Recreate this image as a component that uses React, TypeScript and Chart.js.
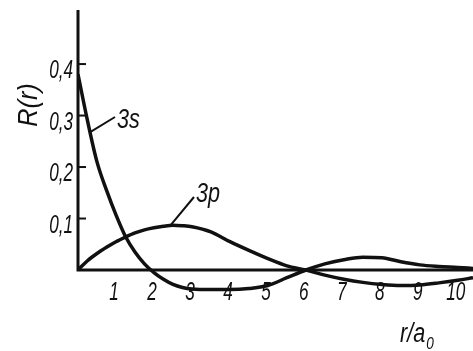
import React, { useEffect, useRef } from "react";
import { Chart, registerables } from "chart.js";

Chart.register(...registerables);

// r / a0 sample positions
const rValues = [0, 0.25, 0.5, 0.75, 1.0, 1.25, 1.5, 1.75, 2.0, 2.25, 2.5, 2.75, 3.0, 3.5, 4.0, 4.5, 5.0, 5.5, 6.0, 6.5, 7.0, 7.5, 8.0, 8.5, 9.0, 9.5, 10.0, 10.4];
// R(r) for 3s
const r3s = [0.38, 0.29, 0.21, 0.155, 0.107, 0.065, 0.035, 0.012, -0.005, -0.018, -0.028, -0.034, -0.037, -0.038, -0.038, -0.036, -0.03, -0.015, 0.0, 0.012, 0.02, 0.025, 0.024, 0.016, 0.01, 0.007, 0.005, 0.003];
// R(r) for 3p
const r3p = [0, 0.018, 0.032, 0.044, 0.055, 0.064, 0.072, 0.078, 0.082, 0.085, 0.087, 0.086, 0.084, 0.074, 0.055, 0.038, 0.022, 0.008, 0.0, -0.01, -0.018, -0.024, -0.028, -0.03, -0.029, -0.025, -0.02, -0.015];

const xTickValues = [1, 2, 3, 4, 5, 6, 7, 8, 9, 10];
const xTickLabels = ["1", "2", "3", "4", "5", "6", "7", "8", "9", "10"];
const yTickValues = [0.1, 0.2, 0.3, 0.4];
const yTickLabels = ["0,1", "0,2", "0,3", "0,4"];

const INK = "#111";

function txt(ctx: CanvasRenderingContext2D, s: string, x: number, y: number, size: number, sx: number, align: CanvasTextAlign): number {
  ctx.save();
  ctx.translate(x, y);
  ctx.scale(sx, 1);
  ctx.font = `italic ${size}px 'Liberation Sans', 'DejaVu Sans', sans-serif`;
  ctx.textAlign = align;
  ctx.textBaseline = "alphabetic";
  ctx.fillStyle = INK;
  ctx.fillText(s, 0, 0);
  const w = ctx.measureText(s).width * sx;
  ctx.restore();
  return w;
}

const axesPlugin = {
  id: "handAxes",
  beforeDatasetsDraw(chart: any) {
    const ctx: CanvasRenderingContext2D = chart.ctx;
    const xs = chart.scales.x;
    const ys = chart.scales.y;
    const x0 = xs.getPixelForValue(0);
    const y0 = ys.getPixelForValue(0);
    ctx.save();
    ctx.strokeStyle = INK;
    ctx.lineWidth = 3;
    ctx.lineCap = "butt";
    ctx.beginPath();
    ctx.moveTo(x0, chart.chartArea.top);
    ctx.lineTo(x0, y0 + 1.5);
    ctx.moveTo(x0 - 1.5, y0);
    ctx.lineTo(chart.chartArea.right, y0);
    ctx.stroke();
    ctx.lineWidth = 2;
    yTickValues.forEach((v) => {
      const py = ys.getPixelForValue(v);
      ctx.beginPath();
      ctx.moveTo(x0, py);
      ctx.lineTo(x0 + 8, py);
      ctx.stroke();
    });
    ctx.restore();
  },
  afterDatasetsDraw(chart: any) {
    const ctx: CanvasRenderingContext2D = chart.ctx;
    const xs = chart.scales.x;
    const ys = chart.scales.y;
    const x0 = xs.getPixelForValue(0);
    const y0 = ys.getPixelForValue(0);
    yTickValues.forEach((v, i) => {
      txt(ctx, yTickLabels[i], x0 - 5, ys.getPixelForValue(v) + 14, 26, 0.66, "right");
    });
    xTickValues.forEach((v, i) => {
      txt(ctx, xTickLabels[i], xs.getPixelForValue(v) - 2, y0 + 30, 26, 0.66, "center");
    });
    // axis titles
    ctx.save();
    ctx.translate(37, 105);
    ctx.rotate(-Math.PI / 2);
    txt(ctx, "R(r)", 0, 0, 28, 0.9, "center");
    ctx.restore();
    const w = txt(ctx, "r/a", 400, 342, 27, 0.8, "left");
    txt(ctx, "0", 400 + w + 1, 349, 17, 0.8, "left");
    // curve labels with leader lines
    ctx.save();
    ctx.strokeStyle = INK;
    ctx.lineWidth = 2;
    ctx.beginPath();
    ctx.moveTo(xs.getPixelForValue(0.32), ys.getPixelForValue(0.268));
    ctx.lineTo(115, 117);
    ctx.moveTo(xs.getPixelForValue(2.45), ys.getPixelForValue(0.088));
    ctx.lineTo(194, 197);
    ctx.stroke();
    ctx.restore();
    txt(ctx, "3s", 117, 128, 27, 0.8, "left");
    txt(ctx, "3p", 196, 202, 27, 0.8, "left");
  },
};

export default function App() {
  const ref = useRef<HTMLCanvasElement | null>(null);
  useEffect(() => {
    if (!ref.current) return;
    const chart = new Chart(ref.current, {
      type: "line",
      data: {
        datasets: [
          {
            label: "3s",
            data: rValues.map((r, i) => ({ x: r, y: r3s[i] })),
            borderColor: INK,
            borderWidth: 3.5,
            pointRadius: 0,
            cubicInterpolationMode: "monotone",
            fill: false,
          },
          {
            label: "3p",
            data: rValues.map((r, i) => ({ x: r, y: r3p[i] })),
            borderColor: INK,
            borderWidth: 3.5,
            pointRadius: 0,
            cubicInterpolationMode: "monotone",
            fill: false,
          },
        ],
      },
      options: {
        responsive: false,
        animation: false,
        layout: { padding: { left: 78, top: 10, right: 0, bottom: 29.5 } },
        plugins: { legend: { display: false }, tooltip: { enabled: false } },
        scales: {
          x: { type: "linear", min: 0, max: 10.4, display: false },
          y: { type: "linear", min: -0.1, max: 0.505, display: false },
        },
      },
      plugins: [axesPlugin],
    });
    return () => chart.destroy();
  }, []);
  return (
    <div style={{ position: "fixed", left: 0, top: 0, width: 473, height: 351, background: "#fff" }}>
      <canvas ref={ref} width={473} height={351} style={{ display: "block" }} />
    </div>
  );
}
